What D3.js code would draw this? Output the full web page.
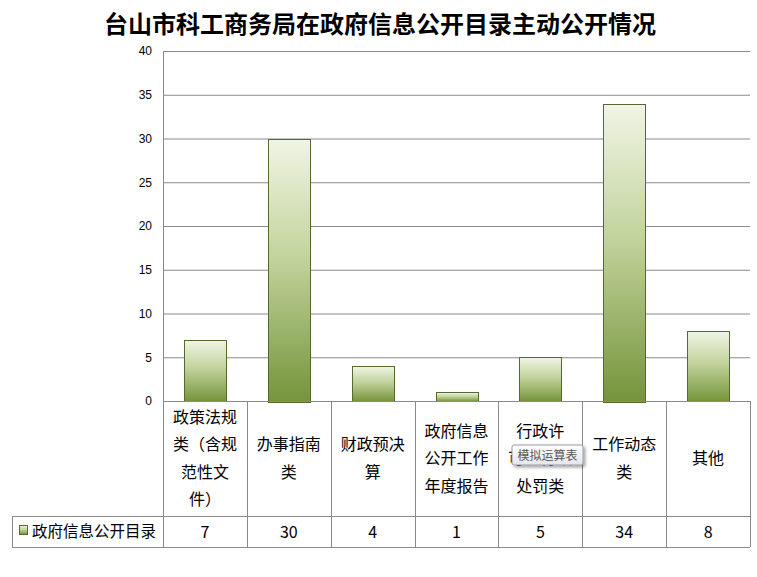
<!DOCTYPE html>
<html>
<head>
<meta charset="utf-8">
<script src="https://cdn.jsdelivr.net/npm/d3@7"></script>
<style>
  html, body { margin: 0; padding: 0; background: #fff; }
  svg { display: block; font-family: "Microsoft YaHei", "Noto Sans CJK SC", sans-serif; }
</style>
</head>
<body>
<svg id="chart" width="757" height="577"></svg>
<script>
// Chart data
const title = "台山市科工商务局在政府信息公开目录主动公开情况";
const seriesName = "政府信息公开目录";
const categories = [
  ["政策法规", "类（含规", "范性文", "件）"],
  ["办事指南", "类"],
  ["财政预决", "算"],
  ["政府信息", "公开工作", "年度报告"],
  ["行政许", "可、行政", "处罚类"],
  ["工作动态", "类"],
  ["其他"]
];
const values = [7, 30, 4, 1, 5, 34, 8];
const yTicks = [0, 5, 10, 15, 20, 25, 30, 35, 40];
const tooltipText = "模拟运算表";

(function () {
const svg = d3.select("#chart");
const plotLeft = 163, plotRight = 750, plotTop = 51, plotBottom = 401;
const catRowBottom = 516, valRowBottom = 547, legendLeft = 12;
const gridColor = "#8a8a8a";

const defs = svg.append("defs");
const grad = defs.append("linearGradient").attr("id", "barGrad")
  .attr("x1", 0).attr("y1", 0).attr("x2", 0).attr("y2", 1);
grad.append("stop").attr("offset", "0%").attr("stop-color", "#f0f5e4");
grad.append("stop").attr("offset", "45%").attr("stop-color", "#c2d39c");
grad.append("stop").attr("offset", "100%").attr("stop-color", "#74943a");

const tipGrad = defs.append("linearGradient").attr("id", "tipGrad")
  .attr("x1", 0).attr("y1", 0).attr("x2", 0).attr("y2", 1);
tipGrad.append("stop").attr("offset", "0%").attr("stop-color", "#ffffff");
tipGrad.append("stop").attr("offset", "100%").attr("stop-color", "#e4e5ee");
const shadow = defs.append("filter").attr("id", "tipShadow")
  .attr("x", "-20%").attr("y", "-30%").attr("width", "150%").attr("height", "180%");
shadow.append("feDropShadow").attr("dx", 2).attr("dy", 2).attr("stdDeviation", 1.5)
  .attr("flood-color", "#000").attr("flood-opacity", 0.35);

// Scales
const x = d3.scaleBand().domain(d3.range(categories.length))
  .range([plotLeft, plotRight]).paddingInner(0.5).paddingOuter(0.25);
const y = d3.scaleLinear().domain([0, 40]).range([plotBottom, plotTop]);
const colW = (plotRight - plotLeft) / categories.length;

// Title
svg.append("text").attr("x", 380).attr("y", 33)
  .attr("text-anchor", "middle").attr("font-size", 24).attr("font-weight", "bold")
  .attr("fill", "#000").text(title);

// Gridlines
svg.append("g").selectAll("line").data(yTicks.filter(d => d > 0)).join("line")
  .attr("x1", plotLeft).attr("x2", plotRight)
  .attr("y1", d => y(d) + 0.5).attr("y2", d => y(d) + 0.5)
  .attr("stroke", gridColor).attr("stroke-width", 1);

// Y axis labels
const yAxis = d3.axisLeft(y).tickValues(yTicks).tickSize(0).tickPadding(11);
const yg = svg.append("g").attr("transform", `translate(${plotLeft},0)`).call(yAxis);
yg.select(".domain").remove();
yg.selectAll("text").attr("font-size", 12).attr("fill", "#000")
  .attr("font-family", "Liberation Sans, Arial, sans-serif");

// Bars
svg.append("g").selectAll("rect").data(values).join("rect")
  .attr("x", (d, i) => Math.round(x(i)) + 0.5)
  .attr("y", d => Math.round(y(d)) + 0.5)
  .attr("width", Math.round(x.bandwidth()))
  .attr("height", d => Math.round(plotBottom - y(d)))
  .attr("fill", "url(#barGrad)")
  .attr("stroke", "#56692e").attr("stroke-width", 1);

// Data table
const tbl = svg.append("g").attr("stroke", gridColor).attr("stroke-width", 1).attr("fill", "none");
tbl.append("line").attr("x1", plotLeft + 0.5).attr("x2", plotLeft + 0.5).attr("y1", plotTop).attr("y2", valRowBottom);
d3.range(1, categories.length + 1).forEach(i => {
  const cx = Math.round(plotLeft + i * colW) + 0.5;
  tbl.append("line").attr("x1", cx).attr("x2", cx).attr("y1", plotBottom).attr("y2", valRowBottom);
});
tbl.append("line").attr("x1", plotLeft).attr("x2", plotRight).attr("y1", plotBottom + 0.5).attr("y2", plotBottom + 0.5);
tbl.append("line").attr("x1", legendLeft).attr("x2", plotRight).attr("y1", catRowBottom + 0.5).attr("y2", catRowBottom + 0.5);
tbl.append("line").attr("x1", legendLeft).attr("x2", plotRight).attr("y1", valRowBottom + 0.5).attr("y2", valRowBottom + 0.5);
tbl.append("line").attr("x1", legendLeft + 0.5).attr("x2", legendLeft + 0.5).attr("y1", catRowBottom).attr("y2", valRowBottom);

// Category labels
const lineH = 27.5;
const rowMid = (plotBottom + catRowBottom) / 2;
categories.forEach((lines, i) => {
  const cx = plotLeft + (i + 0.5) * colW;
  const t = svg.append("text").attr("text-anchor", "middle").attr("font-size", 16).attr("fill", "#000");
  const y0 = rowMid - (lines.length - 1) * lineH / 2 + 5.5;
  lines.forEach((s, k) => {
    t.append("tspan").attr("x", cx).attr("y", y0 + k * lineH).text(s);
  });
});

// Value row
svg.append("g").selectAll("text").data(values).join("text")
  .attr("x", (d, i) => plotLeft + (i + 0.5) * colW)
  .attr("y", (catRowBottom + valRowBottom) / 2 + 6)
  .attr("text-anchor", "middle").attr("font-size", 16).attr("fill", "#000")
  .text(d => d);

// Legend cell
svg.append("rect").attr("x", 19.5).attr("y", 525.5).attr("width", 8).attr("height", 9)
  .attr("fill", "url(#barGrad)").attr("stroke", "#56692e");
svg.append("text").attr("x", 32).attr("y", 537).attr("font-size", 15.5).attr("fill", "#000").text(seriesName);

// Hover tooltip
const tip = svg.append("g").attr("transform", "translate(512,445)");
tip.append("rect").attr("width", 71).attr("height", 20).attr("rx", 2)
  .attr("fill", "url(#tipGrad)").attr("stroke", "#9a9aa6").attr("filter", "url(#tipShadow)");
tip.append("text").attr("x", 35.5).attr("y", 14.5).attr("text-anchor", "middle")
  .attr("font-size", 12).attr("fill", "#555").text(tooltipText);
})();
</script>
</body>
</html>
